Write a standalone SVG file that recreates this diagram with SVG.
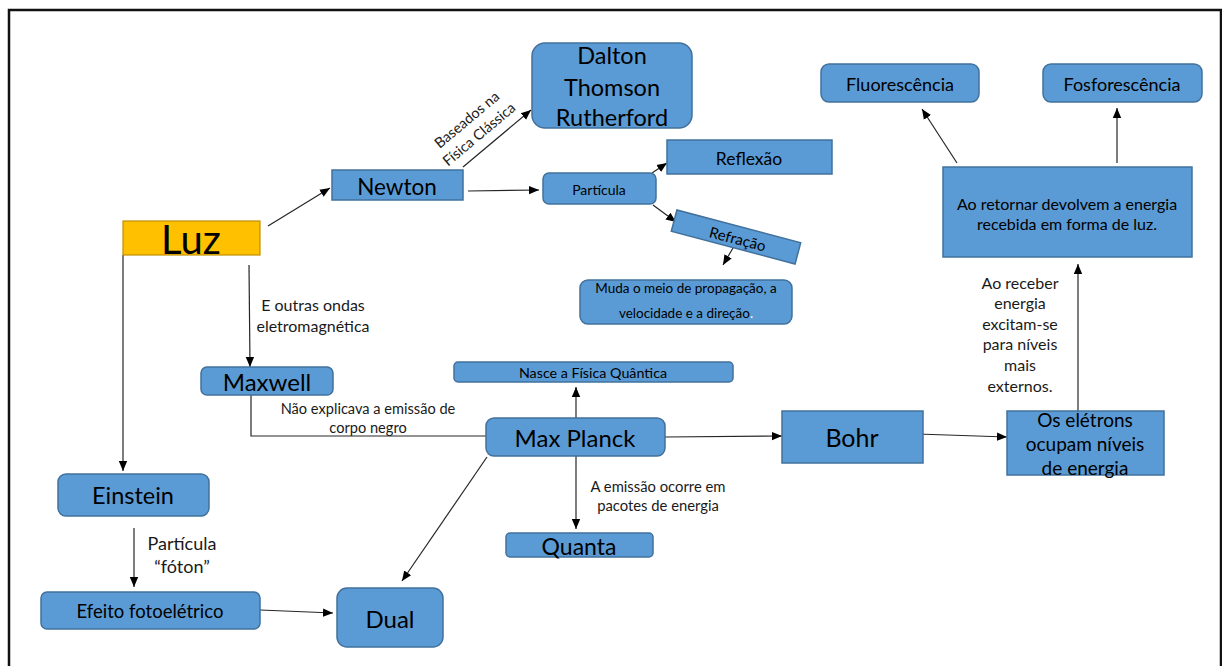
<svg xmlns="http://www.w3.org/2000/svg" width="1222" height="666" viewBox="0 0 1222 666">
<style>
  .n { fill: #5B9BD5; stroke: #41719C; stroke-width: 1.5; }
  .t { font-family: Lato, "Open Sans", sans-serif; fill: #000; text-anchor: middle; dominant-baseline: central; }
  .lbl { font-family: Lato, "Open Sans", sans-serif; fill: #1a1a1a; text-anchor: middle; dominant-baseline: central; }
  .c { fill: none; stroke: #262626; stroke-width: 1.2; }
  .a { marker-end: url(#arr); }
</style>
<defs>
  <marker id="arr" markerUnits="userSpaceOnUse" markerWidth="11" markerHeight="10" refX="10" refY="5" orient="auto">
    <path d="M0,0.8 L10,5 L0,9.2 Z" fill="#000"/>
  </marker>
</defs>
<rect x="0" y="0" width="1222" height="666" fill="#fff"/>
<rect x="9" y="10" width="1212" height="670" fill="none" stroke="#111" stroke-width="2.5"/>

<g id="connectors">
  <line class="c a" x1="268" y1="226" x2="330" y2="188"/>
  <line class="c a" x1="463" y1="167" x2="531" y2="110"/>
  <line class="c a" x1="468" y1="191" x2="539" y2="190"/>
  <line class="c a" x1="652" y1="173" x2="667" y2="163"/>
  <line class="c a" x1="653" y1="205" x2="676" y2="222"/>
  <line class="c a" x1="733" y1="248" x2="723" y2="265"/>
  <line class="c a" x1="957" y1="163" x2="922" y2="109"/>
  <line class="c a" x1="1117" y1="163" x2="1117" y2="108"/>
  <line class="c a" x1="249" y1="265" x2="250" y2="367"/>
  <polyline class="c" points="251,395 251,436 486,436"/>
  <line class="c a" x1="576" y1="418" x2="576" y2="387"/>
  <line class="c a" x1="576" y1="456" x2="576" y2="529"/>
  <line class="c a" x1="665" y1="437" x2="782" y2="436"/>
  <line class="c a" x1="917" y1="434" x2="1007" y2="437"/>
  <line class="c a" x1="1078" y1="411" x2="1078" y2="264"/>
  <line class="c a" x1="123" y1="255" x2="123" y2="471"/>
  <line class="c a" x1="134" y1="528" x2="134" y2="587"/>
  <line class="c a" x1="260" y1="610" x2="333" y2="613"/>
  <line class="c a" x1="487" y1="457" x2="402" y2="581"/>
</g>

<g id="labels">
  <g transform="translate(473,127) rotate(-40)">
    <text class="lbl" x="0" y="-10" font-size="14.5">Baseados na</text>
    <text class="lbl" x="0" y="9" font-size="14.5">Física Clássica</text>
  </g>
  <text class="lbl" x="313" y="304" font-size="16">E outras ondas</text>
  <text class="lbl" x="313" y="325" font-size="16">eletromagnética</text>
  <text class="lbl" x="368" y="408" font-size="14.6">Não explicava a emissão de</text>
  <text class="lbl" x="368" y="427" font-size="14.6">corpo negro</text>
  <text class="lbl" x="658" y="486" font-size="14.8">A emissão ocorre em</text>
  <text class="lbl" x="658" y="505" font-size="14.8">pacotes de energia</text>
  <text class="lbl" x="1020" y="282" font-size="16">Ao receber</text>
  <text class="lbl" x="1020" y="302" font-size="16">energia</text>
  <text class="lbl" x="1020" y="323" font-size="16">excitam-se</text>
  <text class="lbl" x="1020" y="343" font-size="16">para níveis</text>
  <text class="lbl" x="1020" y="364" font-size="16">mais</text>
  <text class="lbl" x="1020" y="385" font-size="16">externos.</text>
  <text class="lbl" x="182" y="543" font-size="18">Partícula</text>
  <text class="lbl" x="182" y="566" font-size="18">“fóton”</text>
</g>

<g id="luz">
  <rect x="123" y="221" width="137" height="34" fill="#FFC000" stroke="#BF9000" stroke-width="1.2"/>
  <text class="t" x="191" y="239" font-size="40">Luz</text>
</g>
<g id="newton">
  <rect class="n" x="332" y="170" width="131" height="30"/>
  <text class="t" x="397" y="186" font-size="22.5">Newton</text>
</g>
<g id="dalton">
  <rect class="n" x="532" y="43" width="160" height="85" rx="13"/>
  <text class="t" x="612" y="55" font-size="23.5">Dalton</text>
  <text class="t" x="612" y="87" font-size="23.5">Thomson</text>
  <text class="t" x="612" y="117" font-size="23.5">Rutherford</text>
</g>
<g id="particula">
  <rect class="n" x="543" y="173" width="113" height="31" rx="6"/>
  <text class="t" x="599" y="189" font-size="14">Partícula</text>
</g>
<g id="reflexao">
  <rect class="n" x="667" y="140" width="165" height="34"/>
  <text class="t" x="749" y="158" font-size="17.5">Reflexão</text>
</g>
<g id="refracao" transform="translate(736,237) rotate(14.8)">
  <rect class="n" x="-64" y="-11" width="128" height="22"/>
  <text class="t" x="2" y="1" font-size="15">Refração</text>
</g>
<g id="muda">
  <rect class="n" x="580" y="280" width="212" height="44" rx="8"/>
  <text class="t" x="686" y="288" font-size="13.5">Muda o meio de propagação, a</text>
  <text class="t" x="686" y="313" font-size="13.5">velocidade e a direção<tspan fill="#fff">.</tspan></text>
</g>
<g id="fluorescencia">
  <rect class="n" x="821" y="64" width="158" height="38" rx="8"/>
  <text class="t" x="900" y="84" font-size="18">Fluorescência</text>
</g>
<g id="fosforescencia">
  <rect class="n" x="1043" y="64" width="159" height="38" rx="8"/>
  <text class="t" x="1122" y="84" font-size="18">Fosforescência</text>
</g>
<g id="aoretornar">
  <rect class="n" x="943" y="167" width="249" height="90"/>
  <text class="t" x="1067" y="203" font-size="16">Ao retornar devolvem a energia</text>
  <text class="t" x="1067" y="223" font-size="16">recebida em forma de luz.</text>
</g>
<g id="maxwell">
  <rect class="n" x="201" y="367" width="132" height="28" rx="6"/>
  <text class="t" x="267" y="381" font-size="24">Maxwell</text>
</g>
<g id="nasce">
  <rect class="n" x="454" y="362" width="279" height="20" rx="4"/>
  <text class="t" x="593" y="372" font-size="14.3">Nasce a Física Quântica</text>
</g>
<g id="maxplanck">
  <rect class="n" x="486" y="418" width="179" height="38" rx="8"/>
  <text class="t" x="575" y="437" font-size="24">Max Planck</text>
</g>
<g id="quanta">
  <rect class="n" x="506" y="533" width="147" height="24" rx="4"/>
  <text class="t" x="579" y="546" font-size="23">Quanta</text>
</g>
<g id="bohr">
  <rect class="n" x="782" y="411" width="141" height="52"/>
  <text class="t" x="852" y="437" font-size="25">Bohr</text>
</g>
<g id="eletrons">
  <rect class="n" x="1007" y="411" width="157" height="64"/>
  <text class="t" x="1085" y="419" font-size="19">Os elétrons</text>
  <text class="t" x="1085" y="443" font-size="19">ocupam níveis</text>
  <text class="t" x="1085" y="467" font-size="19">de energia</text>
</g>
<g id="einstein">
  <rect class="n" x="58" y="474" width="151" height="42" rx="8"/>
  <text class="t" x="133" y="495" font-size="23.5">Einstein</text>
</g>
<g id="efeito">
  <rect class="n" x="41" y="592" width="219" height="37" rx="6"/>
  <text class="t" x="150" y="611" font-size="18.5">Efeito fotoelétrico</text>
</g>
<g id="dual">
  <rect class="n" x="337" y="588" width="106" height="59" rx="10"/>
  <text class="t" x="390" y="618" font-size="24">Dual</text>
</g>
</svg>
